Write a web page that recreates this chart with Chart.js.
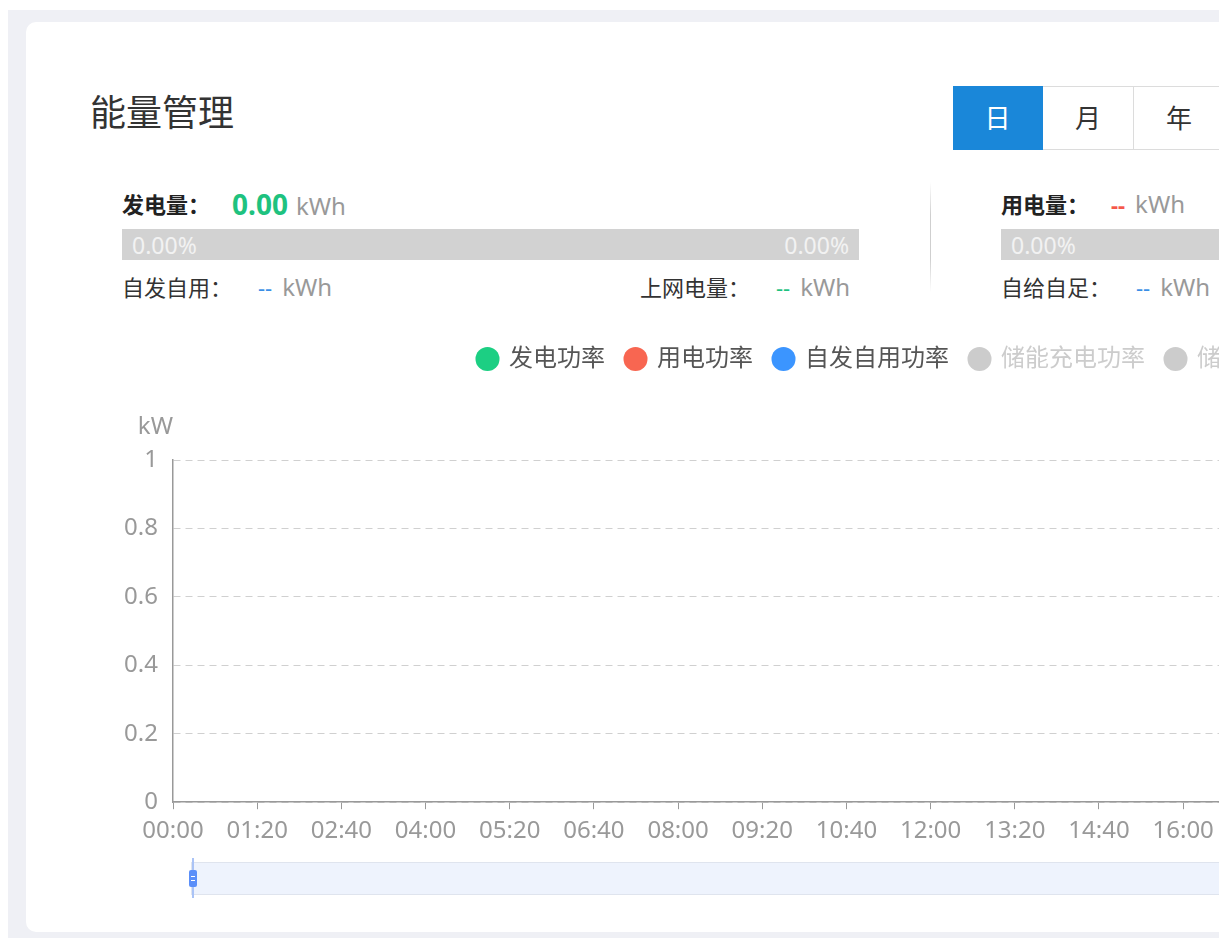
<!DOCTYPE html>
<html>
<head>
<meta charset="utf-8">
<script src="https://cdn.jsdelivr.net/npm/chart.js@4/dist/chart.umd.min.js"></script>
<style>
  html, body { margin: 0; padding: 0; width: 1219px; height: 938px; overflow: hidden; background: #fff; }
  body { position: relative; font-family: "Noto Sans", "Noto Sans CJK SC", sans-serif; color: #333; }
  .bg { position: absolute; left: 8px; top: 10px; width: 2000px; height: 1000px; background: #eff0f5; }
  .card { position: absolute; left: 26px; top: 22px; width: 1900px; height: 910px; background: #fff; border-radius: 10px; }
  .abs { position: absolute; white-space: nowrap; }
  .title { left: 90px; top: 92px; font-size: 36px; line-height: 42px; color: #333; }
  .btns { left: 953px; top: 86px; height: 64px; display: flex; }
  .btns div { box-sizing: border-box; width: 91px; height: 64px; line-height: 62px; text-align: center; font-size: 26px; border: 1px solid #dcdcdc; border-left: none; color: #333; background: #fff; }
  .btns div.on { width: 90px; background: #1a87d9; color: #fff; border-color: #1a87d9; }
  .row { font-size: 22px; line-height: 30px; }
  .row b { color: #222; }
  .big { font-size: 28px; font-weight: bold; color: #1ec27f; margin: 0 8px 0 0; }
  .unit { color: #999; font-size: 24px; }
  .dash { margin: 0 10px 0 0; }
  .bar { height: 31px; background: #d2d2d2; color: #f2f2f2; font-size: 23px; line-height: 32px; }
  .bar span { position: absolute; top: 0; }
  .divider { left: 930px; top: 182px; width: 1px; height: 110px; background: linear-gradient(#fff, #cfcfcf 30%, #cfcfcf 70%, #fff); }
  .chartbox { left: 100px; top: 326px; width: 1628px; height: 528px; }
  .slider { left: 191px; top: 862px; width: 1540px; height: 33px; background: #eef3fd; border: 1px solid #dfe4ee; box-sizing: border-box; }
  .hline { left: 192px; top: 858px; width: 2px; height: 40px; background: #aac3f6; }
  .handle { left: 189px; top: 870px; width: 8px; height: 17px; background: #5b8ff9; border-radius: 2px; }
  .handle i { position: absolute; left: 2px; width: 4px; height: 1px; background: #fff; }
</style>
</head>
<body>
<div class="bg"></div>
<div class="card"></div>

<div class="abs title">能量管理</div>
<div class="abs btns"><div class="on">日</div><div>月</div><div>年</div></div>

<!-- 发电 -->
<div class="abs row" style="left:122px;top:189px;"><b>发电量：</b></div>
<div class="abs row" style="left:232px;top:189px;"><span class="big">0.00</span><span class="unit">kWh</span></div>
<div class="abs bar" style="left:122px;top:229px;width:737px;"><span style="left:10px">0.00%</span><span style="right:10px">0.00%</span></div>
<div class="abs row" style="left:122px;top:272px;">自发自用：</div>
<div class="abs row" style="left:258px;top:272px;"><span class="dash" style="color:#3a8ee6">--</span><span class="unit">kWh</span></div>
<div class="abs row" style="left:640px;top:272px;">上网电量：</div>
<div class="abs row" style="left:776px;top:272px;"><span class="dash" style="color:#1ec27f">--</span><span class="unit">kWh</span></div>
<div class="abs divider"></div>

<!-- 用电 -->
<div class="abs row" style="left:1001px;top:189px;"><b>用电量：</b></div>
<div class="abs row" style="left:1111px;top:189px;"><span class="dash" style="color:#f5574a;font-weight:bold">--</span><span class="unit">kWh</span></div>
<div class="abs bar" style="left:1001px;top:229px;width:737px;"><span style="left:10px">0.00%</span></div>
<div class="abs row" style="left:1001px;top:272px;">自给自足：</div>
<div class="abs row" style="left:1136px;top:272px;"><span class="dash" style="color:#3a8ee6">--</span><span class="unit">kWh</span></div>

<div class="abs chartbox"><canvas id="powerChart"></canvas></div>

<div class="abs slider"></div>
<div class="abs hline"></div>
<div class="abs handle"><i style="top:6px"></i><i style="top:10px"></i></div>

<script>
// x axis: minutes of the day, labels every 80 min
const timeLabels = ['00:00', '01:20', '02:40', '04:00', '05:20', '06:40', '08:00', '09:20', '10:40',
    '12:00', '13:20', '14:40', '16:00', '17:20', '18:40', '20:00', '21:20', '22:40'];
const seriesNames = ['发电功率', '用电功率', '自发自用功率', '储能充电功率', '储能放电功率'];
const seriesColors = ['#1ccf83', '#f86651', '#3b95ff', '#cccccc', '#cccccc'];
const seriesHidden = [false, false, false, true, true];
// no power readings for today yet
const genPower = [];
const usePower = [];
const selfUsePower = [];
const chargePower = [];
const dischargePower = [];
const yTicks = [0, 0.2, 0.4, 0.6, 0.8, 1];

const seriesData = [genPower, usePower, selfUsePower, chargePower, dischargePower];

const unitLabel = {
    id: 'unitLabel',
    afterDraw(chart) {
        const y = chart.scales.y;
        const ctx = chart.ctx;
        ctx.save();
        ctx.font = '24px "Noto Sans", sans-serif';
        ctx.fillStyle = '#999';
        ctx.textAlign = 'right';
        ctx.textBaseline = 'middle';
        ctx.fillText('kW', y.right, y.top - 33);
        ctx.restore();
    }
};

// extra room under the legend, and nudge it a bit to the right
const legendGap = {
    id: 'legendGap',
    beforeInit(chart) {
        const fit = chart.legend.fit;
        chart.legend.fit = function () {
            fit.bind(chart.legend)();
            this.height += 79;
        };
    },
    afterLayout(chart) {
        chart.legend.left += 36;
    }
};

Chart.defaults.font.family = '"Noto Sans", "Noto Sans CJK SC", sans-serif';

new Chart(document.getElementById('powerChart'), {
    type: 'line',
    data: {
        datasets: seriesNames.map((name, i) => ({
            label: name,
            data: seriesData[i],
            borderColor: seriesColors[i],
            backgroundColor: seriesColors[i],
            hidden: seriesHidden[i],
            pointRadius: 0,
            borderWidth: 2
        }))
    },
    options: {
        responsive: true,
        maintainAspectRatio: false,
        animation: false,
        layout: { padding: { left: 0, right: 45, top: 0, bottom: 0 } },
        plugins: {
            tooltip: { enabled: false },
            legend: {
                position: 'top',
                labels: {
                    usePointStyle: true,
                    pointStyle: 'circle',
                    boxHeight: 17,
                    boxWidth: 19,
                    padding: 21,
                    font: { size: 24 },
                    generateLabels(chart) {
                        return chart.data.datasets.map((ds, i) => ({
                            text: ds.label,
                            fillStyle: seriesHidden[i] ? '#cccccc' : ds.borderColor,
                            strokeStyle: seriesHidden[i] ? '#cccccc' : ds.borderColor,
                            fontColor: seriesHidden[i] ? '#cccccc' : '#555',
                            lineWidth: 0,
                            pointStyle: 'circle',
                            hidden: false,
                            datasetIndex: i
                        }));
                    }
                }
            }
        },
        scales: {
            x: {
                type: 'linear',
                min: 0,
                max: 1435,
                afterBuildTicks(scale) { scale.ticks = timeLabels.map((t, i) => ({ value: i * 80 })); },
                ticks: {
                    autoSkip: false,
                    maxRotation: 0,
                    padding: 8,
                    color: '#999',
                    font: { size: 24 },
                    callback: v => timeLabels[Math.round(v / 80)]
                },
                grid: { drawOnChartArea: false, drawTicks: true, tickLength: 7, color: '#999' },
                border: { color: '#999', width: 1.5 }
            },
            y: {
                min: 0,
                max: 1,
                afterBuildTicks(scale) { scale.ticks = yTicks.map(v => ({ value: v })); },
                afterFit(scale) { scale.width = 73; },
                ticks: {
                    padding: 15,
                    color: '#999',
                    font: { size: 24 },
                    callback: v => String(v)
                },
                grid: { color: '#d0d0d0', drawTicks: false },
                border: { color: '#999', width: 1.5, dash: [7, 5] }
            }
        }
    },
    plugins: [unitLabel, legendGap]
});
</script>
</body>
</html>
